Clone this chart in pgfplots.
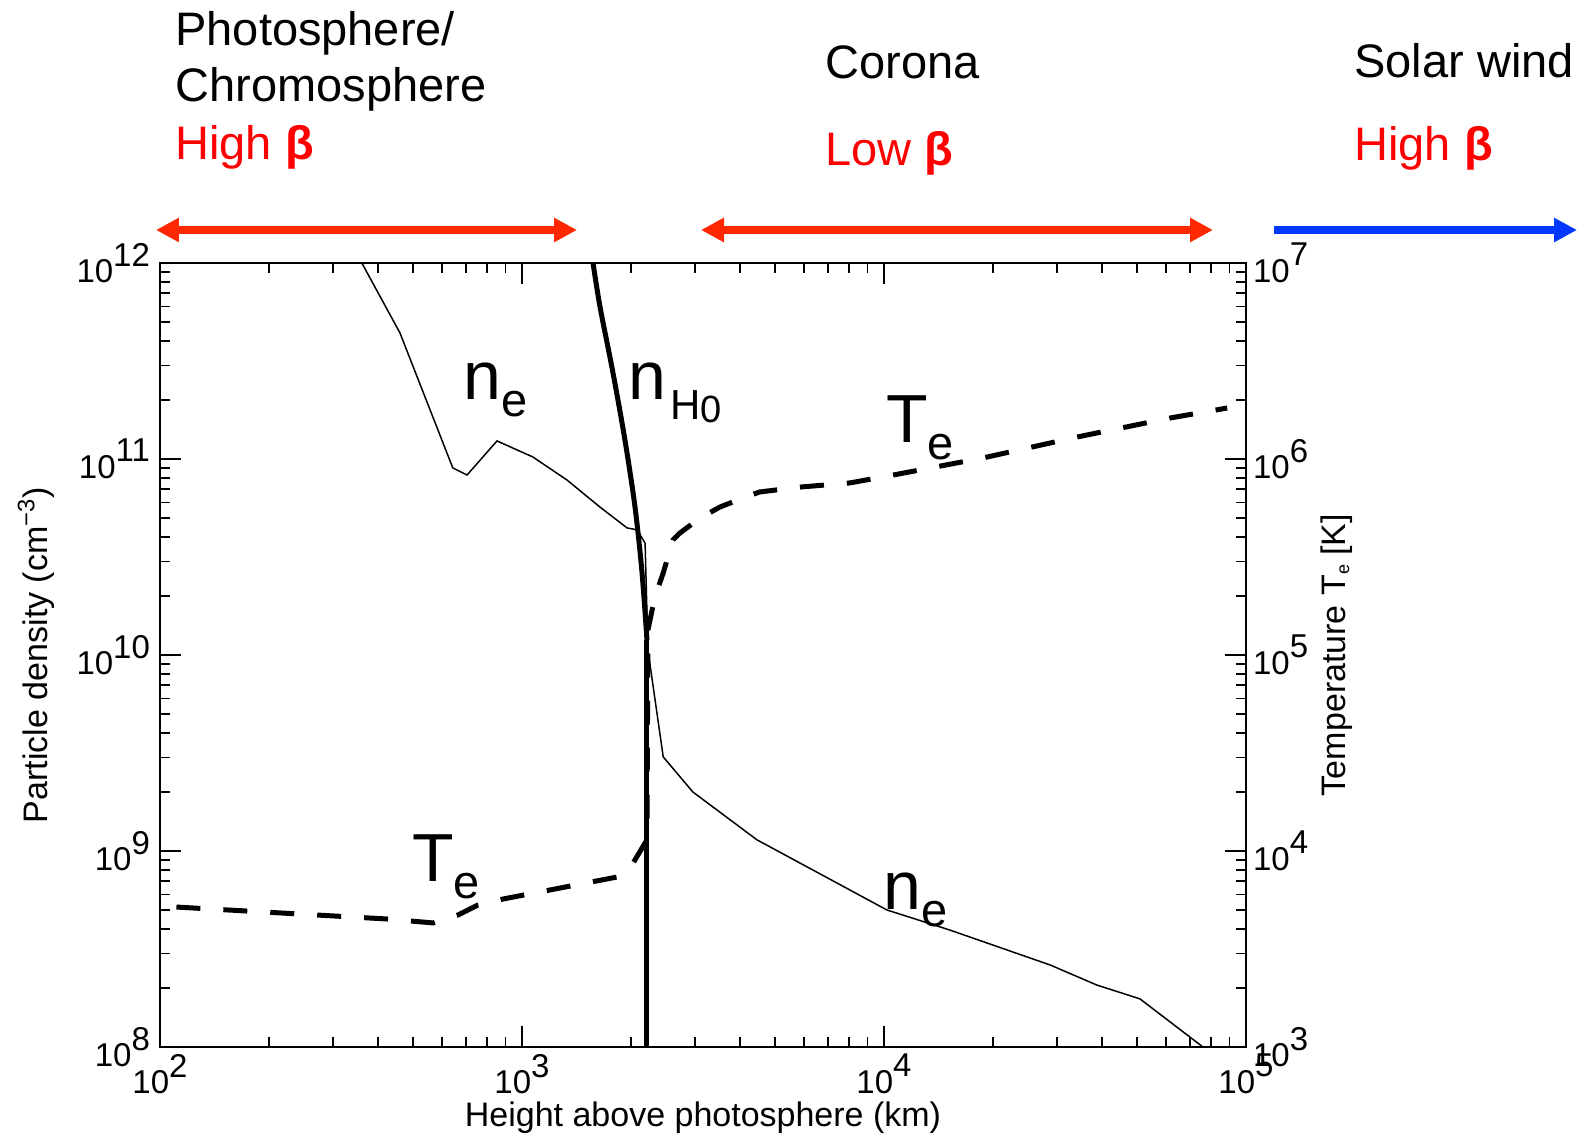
\documentclass[border=0pt]{standalone}
\usepackage{fontspec}
\setmainfont{Liberation Sans}
\usepackage{pgfplots}
\pgfplotsset{compat=1.18}
\usetikzlibrary{arrows.meta}
\definecolor{arrred}{RGB}{255,40,0}
\definecolor{arrblue}{RGB}{0,56,255}
\definecolor{txtred}{RGB}{255,0,0}
\newcommand{\tl}[1]{10\raisebox{0.5em}{#1}}
\newcommand{\biglab}[2]{{\fontsize{34}{34}\selectfont #1\raisebox{-8.5pt}{\fontsize{23.5}{24}\selectfont #2}}}

\begin{document}
\begin{tikzpicture}
\path (-80pt,-45.5pt) rectangle (710.5pt,523.5pt);
\begin{axis}[
  scale only axis, width=543pt, height=392pt,
  xmode=log, ymode=log,
  xmin=100, xmax=1e5, ymin=1e8, ymax=1e12,
  xtick={1e2,1e3,1e4,1e5}, xticklabels={\tl{2},\tl{3},\tl{4},\tl{5}},
  ytick={1e8,1e9,1e10,1e11,1e12}, yticklabels={\tl{8},\tl{9},\tl{10},\tl{11},\tl{12}},
  minor xtick={200,300,400,500,600,700,800,900,2000,3000,4000,5000,6000,7000,8000,9000,20000,30000,40000,50000,60000,70000,80000,90000},
  minor ytick={2e8,3e8,4e8,5e8,6e8,7e8,8e8,9e8,2e9,3e9,4e9,5e9,6e9,7e9,8e9,9e9,2e10,3e10,4e10,5e10,6e10,7e10,8e10,9e10,2e11,3e11,4e11,5e11,6e11,7e11,8e11,9e11},
  xtick pos=both, xticklabel pos=lower, ytick pos=left,
  tick align=inside,
  major tick length=10.5pt, minor tick length=5pt,
  axis line style={line width=1pt},
  every tick/.style={black, line width=0.9pt},
  ticklabel style={font=\fontsize{16.5}{17}\selectfont},
  yticklabel style={xshift=-1.5pt},
  xlabel={Height above photosphere (km)},
  ylabel={Particle density (cm\textsuperscript{−3})},
  label style={font=\fontsize{17}{18}\selectfont},
  xlabel style={at={(axis description cs:0.5,0)}, anchor=base, yshift=-40pt},
  ylabel style={at={(axis description cs:-0.10405,0.5)}, anchor=base},
  clip=false,
]
\addplot[black, line width=0.75pt] coordinates {
(361,1e12) (460,4.40e11) (644,9.0e10) (705,8.28e10) (853,1.236e11) (1072,1.023e11)
(1330,7.82e10) (1641,5.69e10) (1950,4.45e10) (2080,4.35e10) (2188,3.72e10)
(2228,1.06e10) (2455,3.02e9) (2965,2.0e9) (4457,1.14e9) (8054,6.32e8)
(10186,5.0e8) (15205,3.95e8) (28774,2.62e8) (38726,2.07e8) (50933,1.76e8) (76033,1e8)
};
\addplot[black, line width=2.5pt, smooth, tension=0.5] coordinates {
(1571,1e12) (1643,5.965e11) (1784,2.747e11) (1925,1.250e11) (2052,5.69e10) (2146,2.62e10) (2214,1.193e10)
};
\addplot[black, line width=2.5pt] coordinates {
(2214,1.193e10) (2214,1e8)
};
\end{axis}
\begin{axis}[
  scale only axis, width=543pt, height=392pt,
  xmode=log, ymode=log,
  xmin=100, xmax=1e5, ymin=1e3, ymax=1e7,
  axis x line=none, axis y line*=right,
  ytick={1e3,1e4,1e5,1e6,1e7}, yticklabels={\tl{3},\tl{4},\tl{5},\tl{6},\tl{7}},
  minor ytick={2e3,3e3,4e3,5e3,6e3,7e3,8e3,9e3,2e4,3e4,4e4,5e4,6e4,7e4,8e4,9e4,2e5,3e5,4e5,5e5,6e5,7e5,8e5,9e5,2e6,3e6,4e6,5e6,6e6,7e6,8e6,9e6},
  tick align=inside,
  major tick length=10.5pt, minor tick length=5pt,
  axis line style={line width=1pt},
  every tick/.style={black, line width=0.9pt},
  ticklabel style={font=\fontsize{16.5}{17}\selectfont},
  ylabel={Temperature T\raisebox{-2pt}{\fontsize{9}{9}\selectfont e} [K]},
  label style={font=\fontsize{17}{18}\selectfont},
  ylabel style={at={(axis description cs:1.09116,0.5)}, anchor=base},
  clip=false,
]
\addplot[black, line width=2.5pt, dash pattern=on 12pt off 11.5pt] coordinates {
(111,5176) (424,4498) (568,4295) (665,4710) (755,5297) (887,5689) (1828,7362)
(2028,8690) (2213,11376) (2228,1.343e5) (2328,1.977e5) (2455,2.618e5) (2612,3.864e5)
(2729,4.188e5) (3105,5.0e5) (3524,5.69e5) (4074,6.32e5) (4539,6.79e5) (5861,7.19e5)
(8054,7.55e5) (10593,8.28e5) (18750,1.012e6) (34119,1.294e6) (61660,1.618e6) (88716,1.82e6)
};
\end{axis}
% inline curve labels
\node[anchor=base west, inner sep=0] at (151.5pt,323.5pt) {\biglab{n}{e}};
\node[anchor=base west, inner sep=0] at (234pt,323.5pt) {{\fontsize{34}{34}\selectfont n}\hspace{2pt}\raisebox{-10pt}{\fontsize{21}{21}\selectfont H}\raisebox{-11.5pt}{\fontsize{19}{19}\selectfont 0}};
\node[anchor=base west, inner sep=0] at (363pt,302pt) {\biglab{T}{e}};
\node[anchor=base west, inner sep=0] at (126pt,82.5pt) {\biglab{T}{e}};
\node[anchor=base west, inner sep=0] at (361.5pt,68.5pt) {\biglab{n}{e}};
% region headings
\begin{scope}[every node/.style={anchor=base west, inner sep=0, font=\fontsize{23.5}{24}\selectfont}]
\node at (7.5pt,500.5pt) {Photosphere/};
\node at (7.5pt,472.5pt) {Chromosphere};
\node[text=txtred] at (7.5pt,443.5pt) {High \textbf{β}};
\node at (332.5pt,484pt) {Corona};
\node[text=txtred] at (332.5pt,440.5pt) {Low \textbf{β}};
\node at (597pt,484.5pt) {Solar wind};
\node[text=txtred] at (597pt,443pt) {High \textbf{β}};
\end{scope}
% arrows
\draw[arrred, line width=4pt, {Triangle[length=11.5pt,width=11.5pt]}-{Triangle[length=11.5pt,width=11.5pt]}] (-2pt,408.5pt) -- (208.5pt,408.5pt);
\draw[arrred, line width=4pt, {Triangle[length=11.5pt,width=11.5pt]}-{Triangle[length=11.5pt,width=11.5pt]}] (270.5pt,408.5pt) -- (526.5pt,408.5pt);
\draw[arrblue, line width=4pt, -{Triangle[length=11.5pt,width=11.5pt]}] (557pt,408.5pt) -- (708.5pt,408.5pt);
\end{tikzpicture}
\end{document}
